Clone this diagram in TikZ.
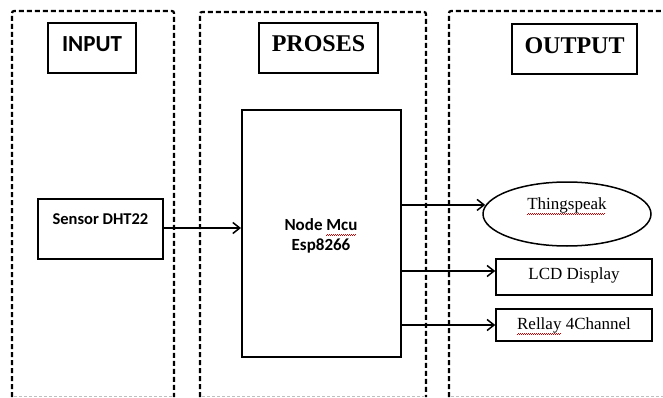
\documentclass[tikz,border=0pt]{standalone}
\usepackage{fontspec}
\usetikzlibrary{arrows.meta,shapes.geometric}
\setmainfont{Liberation Serif}
\newfontfamily\calib{Carlito}
\newcommand\redwave[1]{\setbox0\hbox{#1}\rlap{\raisebox{-4.5pt}{\color{red!80!black}\leaders\hbox to 2pt{\rule{1pt}{0.5pt}\raisebox{0.6pt}{\rule{1pt}{0.5pt}}}\hskip\wd0}}\box0\relax}
\tikzset{
  panel/.style={line width=2.2pt, dash pattern=on 5pt off 3pt, rounded corners=2pt},
  panelbottom/.style={line width=1pt, black!25, dash pattern=on 3pt off 2pt},
  header/.style={draw, line width=1.2pt, inner sep=0pt, align=center},
  block/.style={draw, line width=1.6pt, inner sep=0pt, align=center},
  arr/.style={line width=1.6pt, -{Straight Barb[length=7pt,width=11pt,line width=1.5pt]}},
}
\begin{document}
\begin{tikzpicture}[x=1pt,y=-1pt]
\useasboundingbox (0,0) rectangle (663,398);
% panels
\draw[panel] (12,397) -- (12,11) -- (174,11) -- (174,397);
\draw[panel] (200,397) -- (200,12) -- (426,12) -- (426,397);
\draw[panel] (449,397) -- (449,11) -- (670,11);
\draw[panelbottom] (14,396) -- (172,396);
\draw[panelbottom] (202,396) -- (424,396);
\draw[panelbottom] (451,396) -- (663,396);
% headers
\node[header, minimum width=88pt, minimum height=50pt, text height=15pt, text depth=8pt,
      font=\calib\fontsize{23}{27}\selectfont\bfseries] (hin) at (92,48) {INPUT};
\node[header, minimum width=119pt, minimum height=50pt, text height=16pt, text depth=8pt,
      font=\fontsize{24}{28}\selectfont\bfseries] (hpr) at (318.5,48) {PROSES};
\node[header, minimum width=125pt, minimum height=50pt, text height=16pt, text depth=7pt,
      font=\fontsize{24}{28}\selectfont\bfseries] (hout) at (574.5,49) {OUTPUT};
% blocks
\node[block, minimum width=125pt, minimum height=60pt, text height=10.3pt, text depth=19pt,
      font=\calib\fontsize{16.5}{19}\selectfont\bfseries] (sen) at (100.5,229) {Sensor DHT22};
\node[block, line width=2pt, minimum width=159pt, minimum height=247pt] (mcu) at (321.5,233.5) {};
\node[align=center, inner sep=0pt, font=\calib\fontsize{17}{19.5}\selectfont\bfseries] (mcutext) at (321,236)
  {Node \redwave{Mcu}\\Esp8266};
\node[draw, ellipse, line width=1.5pt, minimum width=168pt, minimum height=64pt, inner sep=0pt] (th) at (567,214) {};
\node[inner sep=0pt, font=\fontsize{17}{20}\selectfont] (thtext) at (567,206) {\redwave{Thingspeak}};
\node[block, line width=1.5pt, minimum width=156pt, minimum height=36pt, text height=11pt, text depth=6pt,
      font=\fontsize{17}{20}\selectfont] (lcd) at (574,277) {LCD Display};
\node[block, line width=1.5pt, minimum width=156pt, minimum height=32pt, text height=11pt, text depth=2pt,
      font=\fontsize{17}{20}\selectfont] (rel) at (574,325) {\redwave{Rellay} 4Channel};
% connectors
\draw[arr] ([yshift=1pt]sen.east) -- ([yshift=1pt]sen.east -| mcu.west);
\draw[arr] ([yshift=0.5pt]mcu.east |- th.174) -- ([yshift=0.5pt]th.174);
\draw[arr] ([yshift=6pt]lcd.west -| mcu.east) -- ([yshift=6pt]lcd.west);
\draw[arr] (mcu.east |- rel.west) -- (rel.west);
\end{tikzpicture}
\end{document}
